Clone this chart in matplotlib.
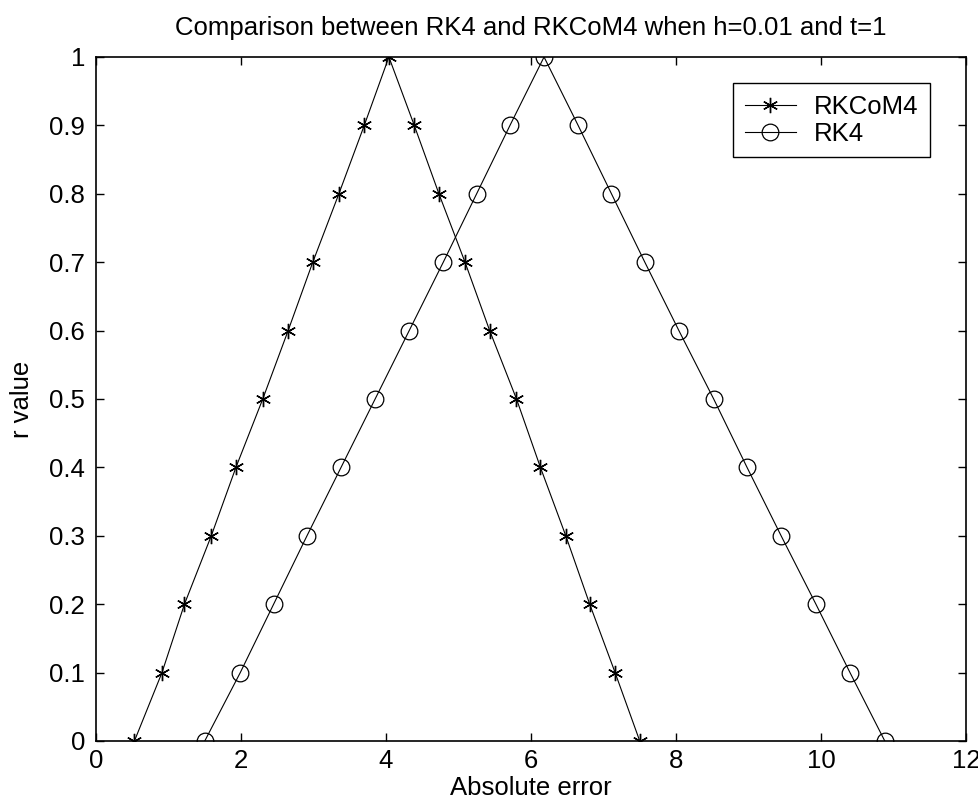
import matplotlib
matplotlib.use("Agg")
import matplotlib.pyplot as plt

r_values = [0.0, 0.1, 0.2, 0.3, 0.4, 0.5, 0.6, 0.7, 0.8, 0.9, 1.0,
            0.9, 0.8, 0.7, 0.6, 0.5, 0.4, 0.3, 0.2, 0.1, 0.0]
rkcom4_err = [0.53, 0.91, 1.22, 1.59, 1.93, 2.30, 2.65, 2.99, 3.35, 3.70, 4.04,
              4.39, 4.73, 5.09, 5.43, 5.80, 6.13, 6.48, 6.81, 7.16, 7.50]
rk4_err = [1.50, 1.99, 2.45, 2.91, 3.38, 3.85, 4.32, 4.79, 5.25, 5.71, 6.18,
           6.65, 7.11, 7.57, 8.04, 8.52, 8.98, 9.45, 9.93, 10.40, 10.88]
x_ticks = [0, 2, 4, 6, 8, 10, 12]
y_ticks = [0, 0.1, 0.2, 0.3, 0.4, 0.5, 0.6, 0.7, 0.8, 0.9, 1]
y_tick_labels = ["0", "0.1", "0.2", "0.3", "0.4", "0.5", "0.6", "0.7", "0.8", "0.9", "1"]

plt.rcParams['font.family'] = ['Liberation Sans', 'DejaVu Sans']
fs = 18.5

fig = plt.figure(figsize=(9.79, 8.07), dpi=100)
ax = fig.add_axes([96/979, 1-741/807, 870/979, 684/807])

ax.plot(rkcom4_err, r_values, color='black', lw=0.8, marker=(6, 2, 0),
        markersize=11, markeredgewidth=1.0, label='RKCoM4')
ax.plot(rk4_err, r_values, color='black', lw=0.8, marker='o', markersize=12,
        markerfacecolor='none', markeredgewidth=0.9, label='RK4')

ax.set_xlim(0, 12)
ax.set_ylim(0, 1)
ax.set_xticks(x_ticks)
ax.set_xticklabels([str(t) for t in x_ticks])
ax.set_yticks(y_ticks)
ax.set_yticklabels(y_tick_labels)
ax.tick_params(direction='in', top=True, right=True, length=6, width=1,
               labelsize=fs)
ax.tick_params(axis='x', pad=6)
ax.tick_params(axis='y', pad=8)
for s in ax.spines.values():
    s.set_linewidth(1.2)

ax.set_title('Comparison between RK4 and RKCoM4 when h=0.01 and t=1', fontsize=fs, pad=16)
ax.set_xlabel('Absolute error', fontsize=fs, labelpad=2)
ax.set_ylabel('r value', fontsize=fs, labelpad=11)

leg = ax.legend(loc='upper right', bbox_to_anchor=(0.9586, 0.962), borderaxespad=0,
                fontsize=fs, fancybox=False, framealpha=1, edgecolor='black',
                handlelength=2.0, handletextpad=0.7, labelspacing=0.12,
                borderpad=0.45)
leg.get_frame().set_linewidth(1.0)

fig.savefig('out.png', dpi=100)
